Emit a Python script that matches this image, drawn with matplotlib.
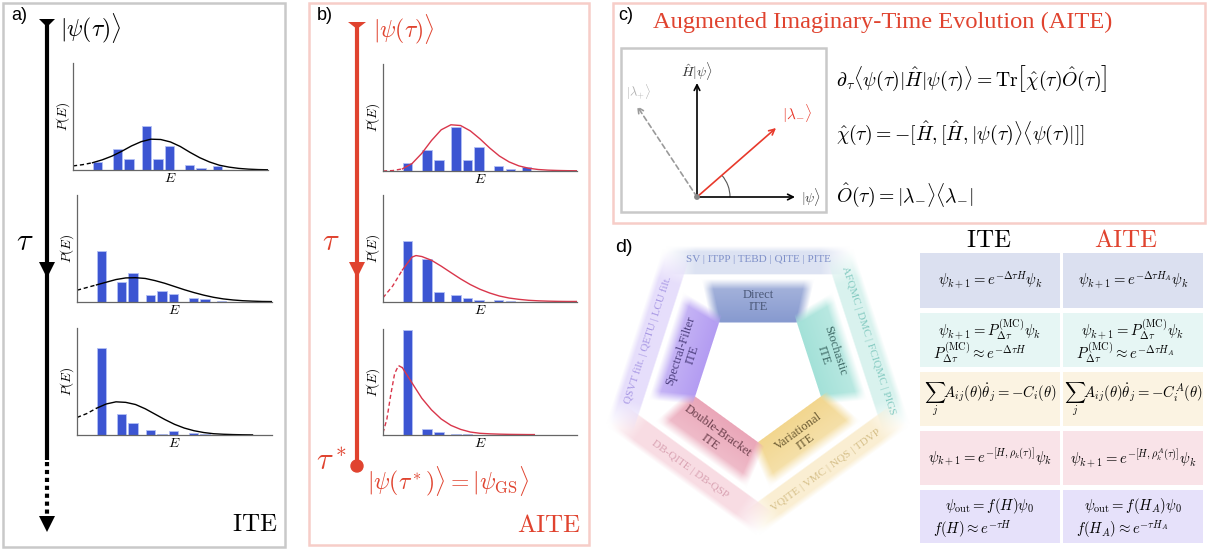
import numpy as np
import matplotlib

matplotlib.use("Agg")
import matplotlib.pyplot as plt
from matplotlib.colors import to_rgb
from matplotlib.patches import Rectangle, Polygon, Circle, Arc

plt.rcParams["mathtext.fontset"] = "cm"

W, H = 1208, 550
RED = "#e0432f"
CURVE_RED = "#d9364b"
BAR_BLUE = "#3c55d2"
GREY_FRAME = "#c9c9c9"
PINK_FRAME = "#f7cdc8"
SERIF = "Liberation Serif"

# ---------------- data: energy histograms ----------------
BAR_E = [0.127, 0.227, 0.288, 0.377, 0.435, 0.495, 0.597, 0.657, 0.741]
ITE_BARS = [
    [0.073, 0.197, 0.102, 0.413, 0.102, 0.225, 0.051, 0.019, 0.035],
    [0.473, 0.185, 0.272, 0.067, 0.102, 0.077, 0.038, 0.026, 0.013],
    [0.814, 0.198, 0.108, 0.050, 0.012, 0.034, 0.019, 0.006, 0.004],
]
AITE_BARS = [
    [0.073, 0.197, 0.102, 0.413, 0.102, 0.225, 0.051, 0.019, 0.035],
    [0.569, 0.406, 0.097, 0.066, 0.041, 0.019, 0.016, 0.009, 0.004],
    [0.995, 0.057, 0.028, 0.013, 0.009, 0.003, 0.000, 0.000, 0.000],
]

E_GRID = [0.00, 0.05, 0.10, 0.15, 0.20, 0.25, 0.30, 0.35, 0.40, 0.45, 0.50,
          0.55, 0.60, 0.65, 0.70, 0.75, 0.80, 0.85, 0.90, 0.95, 1.00]
ITE_CURVE_E = [E_GRID, E_GRID, E_GRID[:19]]
ITE_CURVE_P = [
    [0.038, 0.050, 0.068, 0.095, 0.130, 0.175, 0.225, 0.265, 0.288, 0.285, 0.262,
     0.220, 0.165, 0.115, 0.075, 0.045, 0.027, 0.015, 0.008, 0.004, 0.002],
    [0.110, 0.135, 0.160, 0.185, 0.210, 0.225, 0.227, 0.220, 0.200, 0.175, 0.145,
     0.115, 0.088, 0.064, 0.044, 0.029, 0.019, 0.012, 0.008, 0.005, 0.004],
    [0.164, 0.200, 0.250, 0.290, 0.310, 0.305, 0.285, 0.245, 0.195, 0.145, 0.100,
     0.065, 0.040, 0.023, 0.012, 0.007, 0.004, 0.002, 0.001],
]
AITE_CURVE_E = [
    E_GRID,
    [0.00, 0.05, 0.10, 0.15, 0.17, 0.20, 0.25, 0.30, 0.35, 0.40, 0.45, 0.50,
     0.55, 0.60, 0.65, 0.70, 0.75, 0.80, 0.85, 0.90, 0.95, 1.00],
    [0.00, 0.02, 0.04, 0.06, 0.08, 0.10, 0.15, 0.20, 0.25, 0.30, 0.35, 0.40,
     0.45, 0.50, 0.55, 0.60, 0.65, 0.70, 0.75, 0.78],
]
AITE_CURVE_P = [
    [0.000, 0.004, 0.020, 0.070, 0.165, 0.285, 0.385, 0.432, 0.425, 0.375, 0.300,
     0.215, 0.140, 0.085, 0.048, 0.026, 0.014, 0.008, 0.005, 0.003, 0.002],
    [0.040, 0.150, 0.300, 0.420, 0.434, 0.425, 0.390, 0.335, 0.275, 0.216, 0.163,
     0.119, 0.084, 0.056, 0.037, 0.025, 0.016, 0.011, 0.008, 0.006, 0.005, 0.005],
    [0.020, 0.150, 0.380, 0.580, 0.655, 0.635, 0.490, 0.347, 0.237, 0.151, 0.091,
     0.053, 0.028, 0.016, 0.011, 0.008, 0.006, 0.005, 0.004, 0.004],
]
DASH_E = 0.10  # dashed part of the fit below the lowest bin

# ---------------- data: panel d ----------------
SEG_NAMES = ["Direct\nITE", "Stochastic\nITE", "Variational\nITE",
             "Double-Bracket\nITE", "Spectral-Filter\nITE"]
SEG_METHODS = ["SV | ITPP | TEBD | QITE | PITE", "AFQMC | DMC | FCIQMC | PIGS",
               "VQITE | VMC | NQS | TDVP", "DB-QITE | DB-QSP",
               "QSVT filt. | QETU | LCU filt."]
SEG_INNER = ["#8699cf", "#a3e1d8", "#f2d68e", "#eaa6b8", "#b39cf2"]
SEG_OUTER = ["#dce2f2", "#d9f2ee", "#faeed2", "#f8dce3", "#e6defb"]
SEG_TEXT = ["#4b5878", "#3f6a66", "#6a5a32", "#6c3f4c", "#4d3f7e"]
SEG_METHOD_TEXT = ["#7e8fc8", "#86cbc2", "#d6c08a", "#d9a2b2", "#a797e4"]

TABLE_HEAD = ["ITE", "AITE"]
TABLE_ROW_COLORS = ["#dbe0f0", "#e6f6f4", "#fbf3e2", "#f9e3e8", "#e6e1fa"]
TABLE_ITE = [
    [r"$\psi_{k+1} = e^{-\Delta\tau H}\psi_k$"],
    [r"$\psi_{k+1} = P^{(\mathrm{MC})}_{\Delta\tau}\psi_k$",
     r"$P^{(\mathrm{MC})}_{\Delta\tau} \approx e^{-\Delta\tau H}$"],
    [r"$\sum_j A_{ij}(\theta)\dot{\theta}_j = -C_i(\theta)$"],
    [r"$\psi_{k+1} = e^{-[H,\rho_k(\tau)]}\psi_k$"],
    [r"$\psi_{\mathrm{out}} = f(H)\psi_0$", r"$f(H) \approx e^{-\tau H}$"],
]
TABLE_AITE = [
    [r"$\psi_{k+1} = e^{-\Delta\tau H_A}\psi_k$"],
    [r"$\psi_{k+1} = P^{(\mathrm{MC})}_{\Delta\tau}\psi_k$",
     r"$P^{(\mathrm{MC})}_{\Delta\tau} \approx e^{-\Delta\tau H_A}$"],
    [r"$\sum_j A_{ij}(\theta)\dot{\theta}_j = -C^A_i(\theta)$"],
    [r"$\psi_{k+1} = e^{-[H,\rho^A_k(\tau)]}\psi_k$"],
    [r"$\psi_{\mathrm{out}} = f(H_A)\psi_0$", r"$f(H_A) \approx e^{-\tau H_A}$"],
]

fig = plt.figure(figsize=(W / 100, H / 100), dpi=100)
cv = fig.add_axes([0, 0, 1, 1])
cv.set_xlim(0, W)
cv.set_ylim(H, 0)
cv.axis("off")


def px_axes(left, top, right, bottom):
    ax = fig.add_axes([left / W, 1 - bottom / H, (right - left) / W, (bottom - top) / H])
    ax.set_facecolor("none")
    return ax


def histogram(box, bars, e, p, color):
    ax = px_axes(*box)
    ax.bar(BAR_E, bars, width=0.048, color=BAR_BLUE, edgecolor="#b3c0f5", linewidth=0.6)
    e = np.array(e)
    p = np.array(p)
    lo = e <= DASH_E
    ax.plot(e[lo], p[lo], color=color, lw=1.0, ls=(0, (3, 2)))
    ax.plot(e[e >= DASH_E], p[e >= DASH_E], color=color, lw=1.0)
    ax.set_xlim(0, 1)
    ax.set_ylim(0, 1)
    ax.set_xticks([])
    ax.set_yticks([])
    for s in ("top", "right"):
        ax.spines[s].set_visible(False)
    for s in ("left", "bottom"):
        ax.spines[s].set_color("#666666")
        ax.spines[s].set_linewidth(0.9)
    ax.set_xlabel("$E$", fontsize=10, labelpad=1)
    ax.set_ylabel("$P(E)$", fontsize=9.5, labelpad=1)


def tri(x, y0, y1, half, color):
    cv.add_patch(Polygon([(x - half, y0), (x + half, y0), (x, y1)], closed=True,
                         color=color, lw=0))


# ---------------- panel a ----------------
cv.add_patch(Rectangle((3, 3), 282, 544, fill=False, ec=GREY_FRAME, lw=1.8))
cv.text(11, 16, "a)", fontsize=13, family="Liberation Sans", va="center")
cv.plot([47, 47], [22, 460], color="k", lw=3, solid_capstyle="butt")
cv.plot([47, 47], [462, 516], color="k", lw=3, ls=(0, (1, 0.9)), solid_capstyle="butt")
tri(47, 19, 27, 8, "k")
tri(47, 262, 278, 8, "k")
tri(47, 516, 532, 8, "k")
cv.text(60, 28, r"$|\psi(\tau)\rangle$", fontsize=17, va="center")
cv.text(25, 241, r"$\tau$", fontsize=22, va="center", ha="center")
cv.text(277, 524, r"$\mathrm{ITE}$", fontsize=18, va="center", ha="right")

ite_boxes = [(73, 63, 268, 170), (77, 195, 272, 302), (77, 328, 272, 435)]
for box, bars, e, p in zip(ite_boxes, ITE_BARS, ITE_CURVE_E, ITE_CURVE_P):
    histogram(box, bars, e, p, "k")

# ---------------- panel b ----------------
cv.add_patch(Rectangle((309, 3), 280, 542, fill=False, ec=PINK_FRAME, lw=1.8))
cv.text(317, 16, "b)", fontsize=13, family="Liberation Sans", va="center")
cv.plot([357, 357], [24, 466], color=RED, lw=3, solid_capstyle="butt")
tri(357, 22, 29, 9, RED)
tri(357, 262, 278, 8, RED)
cv.add_patch(Circle((357, 466), 6, color=RED))
cv.text(373, 29, r"$|\psi(\tau)\rangle$", fontsize=17, va="center", color=RED)
cv.text(331, 241, r"$\tau$", fontsize=22, va="center", ha="center", color=RED)
cv.text(331, 461, r"$\tau^*$", fontsize=22, va="center", ha="center", color=RED)
cv.text(367, 481, r"$|\psi(\tau^*)\rangle = |\psi_{\mathrm{GS}}\rangle$", fontsize=17,
        va="center", color=RED)
cv.text(581, 525, r"$\mathrm{AITE}$", fontsize=18, va="center", ha="right", color=RED)

aite_boxes = [(383, 64, 577, 171), (383, 195, 577, 302), (383, 329, 577, 435)]
for box, bars, e, p in zip(aite_boxes, AITE_BARS, AITE_CURVE_E, AITE_CURVE_P):
    histogram(box, bars, e, p, CURVE_RED)

# ---------------- panel c ----------------
cv.add_patch(Rectangle((613, 3), 592, 220, fill=False, ec=PINK_FRAME, lw=1.8))
cv.text(618, 16, "c)", fontsize=13, family="Liberation Sans", va="center")
cv.text(653, 22, "Augmented Imaginary-Time Evolution (AITE)", fontsize=17.6, family=SERIF,
        color=RED, va="center")
cv.add_patch(Rectangle((621, 48), 205, 164, fill=False, ec=GREY_FRAME, lw=1.8))
ox, oy = 697, 197
arrow = dict(arrowstyle="->", lw=1.2, color="k", mutation_scale=10, shrinkA=0, shrinkB=0)
cv.annotate("", xy=(795, oy), xytext=(ox, oy), arrowprops=arrow)
cv.annotate("", xy=(ox, 83), xytext=(ox, oy), arrowprops=arrow)
cv.annotate("", xy=(776, 128), xytext=(ox, oy),
            arrowprops=dict(arrow, color="#e8392b"))
cv.annotate("", xy=(637, 106), xytext=(ox, oy),
            arrowprops=dict(arrow, color="#9a9a9a", ls=(0, (3, 2))))
cv.add_patch(Arc((ox, oy), 66, 66, theta1=-40.8, theta2=0, color="#555555", lw=0.8))
cv.add_patch(Circle((ox, oy), 2.2, color="#888888", zorder=5))
cv.text(697, 71, r"$\hat{H}|\psi\rangle$", fontsize=10, ha="center", va="center",
        color="#333333")
cv.text(801, 197, r"$|\psi\rangle$", fontsize=10, va="center", color="#333333")
cv.text(782, 114, r"$|\boldsymbol{\lambda}_{-}\rangle$", fontsize=11, va="center",
        color="#e8392b")
cv.text(639, 92, r"$|\lambda_{+}\rangle$", fontsize=9, ha="center", va="center",
        color="#b0b0b0")
cv.text(836, 78, r"$\partial_\tau\langle\psi(\tau)|\hat{H}|\psi(\tau)\rangle = "
        r"\mathrm{Tr}\left[\hat{\chi}(\tau)\hat{O}(\tau)\right]$", fontsize=14.2, va="center")
cv.text(836, 133, r"$\hat{\chi}(\tau) = -[\hat{H},[\hat{H},|\psi(\tau)\rangle"
        r"\langle\psi(\tau)|]]$", fontsize=14.2, va="center")
cv.text(836, 195, r"$\hat{O}(\tau) = |\lambda_{-}\rangle\langle\lambda_{-}|$",
        fontsize=14.2, va="center")

# ---------------- panel d: pentagon ----------------
cv.text(615, 248, "d)", fontsize=14, family="Liberation Sans", va="center")
PCX, PCY = 758, 376
SEG_ANGLES = [90, 18, -54, -126, 162]
SEG_ROT = [0, -72, 36, -36, 72]

x0, x1, y0, y1 = 600, 920, 225, 550
X, Y = np.meshgrid(np.arange(x0, x1) + 0.5, np.arange(y0, y1) + 0.5)
PX, PY = X - PCX, PCY - Y
img = np.ones(X.shape + (3,))
for ang, c_in, c_out in zip(SEG_ANGLES, SEG_INNER, SEG_OUTER):
    a = np.deg2rad(ang)
    d = PX * np.cos(a) + PY * np.sin(a)
    t = np.abs(-PX * np.sin(a) + PY * np.cos(a))
    ab = (np.clip((92 - t) / 30, 0, 1) * np.clip((d - 101) / 1.5, 0, 1)
          * np.clip((130 - d) / 6, 0, 1))
    img = img * (1 - ab[..., None]) + np.array(to_rgb(c_out)) * ab[..., None]
    half = 42 + (d - 53) * 0.22
    ai = (np.clip(d - 53, 0, 1) * np.clip((97 - d) / 10, 0, 1)
          * np.clip((half - t) / 10 + 0.5, 0, 1) * np.clip(1 - 0.3 * (d - 53) / 44, 0, 1))
    img = img * (1 - ai[..., None]) + np.array(to_rgb(c_in)) * ai[..., None]
cv.imshow(img, extent=(x0, x1, y1, y0), interpolation="bilinear", zorder=1)
cv.set_xlim(0, W)
cv.set_ylim(H, 0)

for ang, rot, name, meth, tc, mc in zip(SEG_ANGLES, SEG_ROT, SEG_NAMES, SEG_METHODS,
                                        SEG_TEXT, SEG_METHOD_TEXT):
    a = np.deg2rad(ang)
    cv.text(PCX + 75 * np.cos(a), PCY - 75 * np.sin(a), name, rotation=rot,
            rotation_mode="anchor", ha="center", va="center", multialignment="center",
            fontsize=9, family=SERIF, color=tc, linespacing=1.1, zorder=3)
    cv.text(PCX + 116 * np.cos(a), PCY - 116 * np.sin(a), meth, rotation=rot,
            rotation_mode="anchor", ha="center", va="center", fontsize=8,
            family=SERIF, color=mc, zorder=3)

# ---------------- panel d: table ----------------
col_x = [(920, 1060), (1063, 1203)]
row_y = [(253, 308), (313, 367), (372, 426), (431, 485), (490, 543)]
cv.text(989, 240, r"$\mathrm{ITE}$", fontsize=18, ha="center", va="center")
cv.text(1126, 240, r"$\mathrm{AITE}$", fontsize=18, ha="center", va="center", color=RED)
for (ya, yb), col in zip(row_y, TABLE_ROW_COLORS):
    for xa, xb in col_x:
        cv.add_patch(Rectangle((xa, ya), xb - xa, yb - ya, color=col, lw=0, zorder=1))

for ci, column in enumerate([TABLE_ITE, TABLE_AITE]):
    xa, xb = col_x[ci]
    xm = (xa + xb) / 2
    for (ya, yb), lines in zip(row_y, column):
        ym = (ya + yb) / 2
        if len(lines) == 1:
            cv.text(xm, ym, lines[0], fontsize=10.6, ha="center", va="center", zorder=3)
        else:
            cv.text(xm, ym - 10, lines[0], fontsize=10.6, ha="center", va="center",
                    zorder=3)
            cv.text(xa + 13, ym + 13, lines[1], fontsize=10.6, ha="left", va="center",
                    zorder=3)

fig.savefig("out.png", dpi=100)
